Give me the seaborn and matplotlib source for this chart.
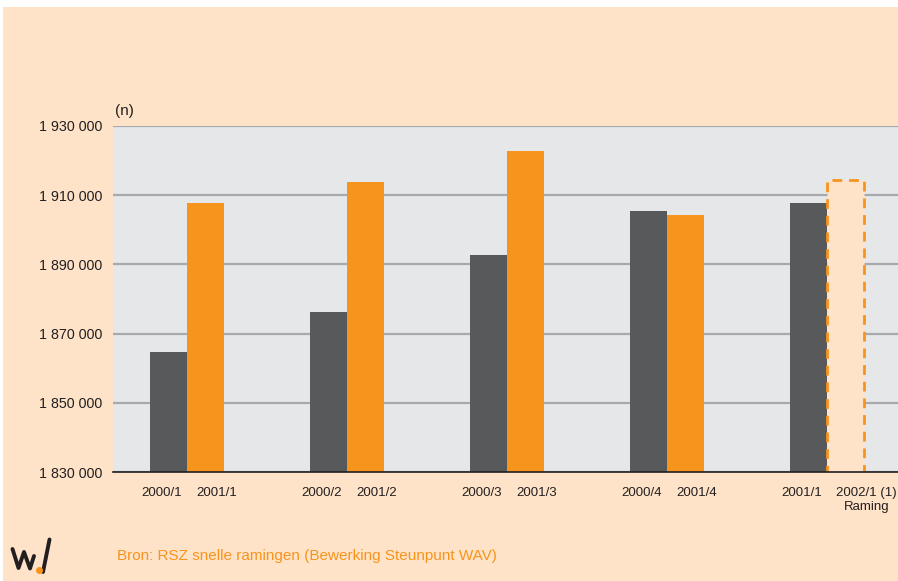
import matplotlib
matplotlib.use("Agg")
import matplotlib.pyplot as plt
import matplotlib.ticker as mticker
from matplotlib.patches import Rectangle
from matplotlib.lines import Line2D
import matplotlib.transforms as mtransforms
import seaborn as sns
import pandas as pd

# ---- data ----
groups = ["g1", "g2", "g3", "g4", "g5"]
labels_first = ["2000/1", "2000/2", "2000/3", "2000/4", "2001/1"]
labels_second = ["2001/1", "2001/2", "2001/3", "2001/4", "2002/1 (1)\nRaming"]
values_first = [1864700, 1876200, 1892700, 1905400, 1907800]
values_second = [1907800, 1913800, 1922800, 1904300, 1914400]
y_ticks = [1830000, 1850000, 1870000, 1890000, 1910000, 1930000]
source_text = "Bron: RSZ snelle ramingen (Bewerking Steunpunt WAV)"
unit_text = "(n)"

DARK = "#58595b"
ORANGE = "#f7941d"
PEACH = "#fee3c8"
PLOTBG = "#e6e7e8"
GRID = "#a7a9ac"
TXT = "#231f20"

sns.set_theme(style="white")
plt.rcParams["font.family"] = ["Liberation Sans", "DejaVu Sans"]

W, H = 898, 581
fig = plt.figure(figsize=(W / 100, H / 100), dpi=100, facecolor="white")
bg = Rectangle((3 / W, 0), 1, 1 - 7 / H, transform=fig.transFigure,
               facecolor=PEACH, edgecolor="none", zorder=-10)
fig.patches.append(bg)

ax_left, ax_right, ax_top, ax_bot = 113, 898, 126, 472
ax = fig.add_axes([ax_left / W, 1 - ax_bot / H, (ax_right - ax_left) / W, (ax_bot - ax_top) / H])
ax.set_zorder(2)
ax.set_facecolor(PLOTBG)

df = pd.DataFrame({
    "group": groups * 2,
    "series": ["a"] * len(groups) + ["b"] * len(groups),
    "value": values_first + values_second,
})
sns.barplot(data=df, x="group", y="value", hue="series", palette=[DARK, ORANGE],
            width=0.46, saturation=1, legend=False, ax=ax, zorder=3, linewidth=0)

# estimated bar (last) -> dashed outline
last = max(ax.patches, key=lambda p: p.get_x())
last.set_facecolor(PEACH)
last.set_edgecolor(ORANGE)
last.set_linestyle((0, (3.5, 2.5)))
last.set_linewidth(2)

ax.set_ylim(1830000, 1930000)
ax.set_xlim((ax_left - 187) / 160, (ax_right - 187) / 160)
ax.set_yticks(y_ticks)
ax.yaxis.set_major_formatter(mticker.FuncFormatter(lambda v, p: f"{v:,.0f}".replace(",", " ")))
ax.tick_params(axis="y", length=0, pad=8, labelsize=10.3, labelcolor=TXT)
ax.set_xticks([])
ax.set_xlabel("")
ax.set_ylabel("")
ax.grid(axis="y", color=GRID, linewidth=1.6, zorder=1)
ax.set_axisbelow(True)
for s in ["top", "right", "left"]:
    ax.spines[s].set_visible(False)
ax.spines["bottom"].set_color(TXT)
ax.spines["bottom"].set_linewidth(1.2)
ax.spines["bottom"].set_zorder(5)

trans = mtransforms.blended_transform_factory(ax.transData, ax.transAxes)
for i in range(len(groups)):
    ax.text(i - 0.285, -15 / 346, labels_first[i], transform=trans, ha="left", va="top",
            fontsize=9.5, color=TXT)
    ax.text(i + 0.056, -15 / 346, labels_second[i], transform=trans, ha="left", va="top",
            fontsize=9.5, color=TXT, multialignment="center", linespacing=1.25)

fig.text(115 / W, 1 - 111 / H, unit_text, ha="left", va="center", fontsize=11, color=TXT)
fig.text(117 / W, 1 - 556 / H, source_text, ha="left", va="center", fontsize=11, color=ORANGE)

# logo
px = [12.5, 18.5, 24, 30, 34]
py = [549, 568, 552, 568.5, 556]
fig.add_artist(Line2D([x / W for x in px], [1 - y / H for y in py], transform=fig.transFigure,
                      color=TXT, linewidth=2.8, solid_joinstyle="round", solid_capstyle="round"))
fig.add_artist(Line2D([43 / W, 49.5 / W], [1 - 572 / H, 1 - 539.5 / H], transform=fig.transFigure,
                      color=TXT, linewidth=2.8, solid_capstyle="round"))
fig.add_artist(Line2D([38.5 / W], [1 - 569.5 / H], transform=fig.transFigure, marker="o",
                      markersize=4, color=ORANGE, linestyle="none"))

fig.savefig("out.png", dpi=100, facecolor="white")
